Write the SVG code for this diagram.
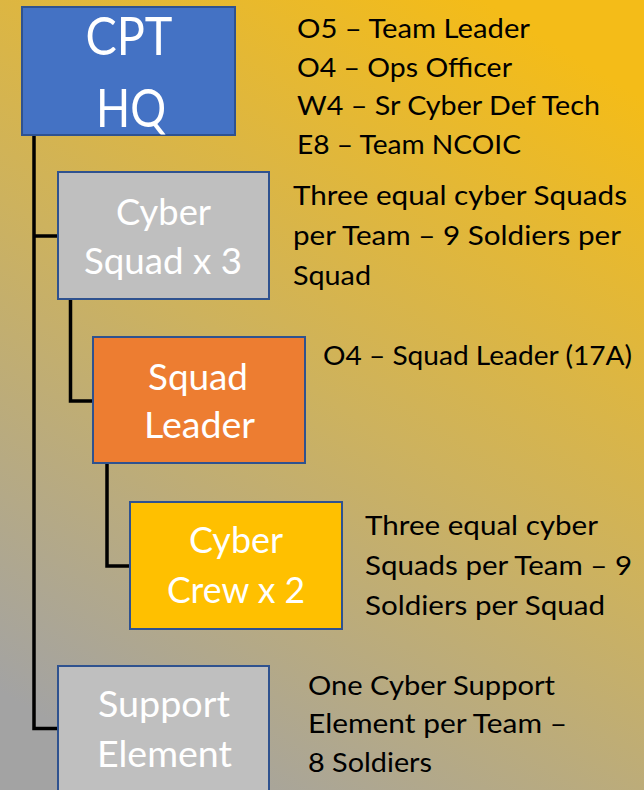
<svg xmlns="http://www.w3.org/2000/svg" width="644" height="790" viewBox="0 0 644 790">
<defs>
<linearGradient id="bg" x1="0.25" y1="1" x2="0.75" y2="0">
<stop offset="0" stop-color="#A3A3A3"/>
<stop offset="0.5" stop-color="#CDB25E"/>
<stop offset="1" stop-color="#F4BC18"/>
</linearGradient>
<style>
.box{stroke:#2F528F;stroke-width:2}
.bt{font-family:Lato,"Open Sans","Liberation Sans",sans-serif;fill:#FFFFFF;text-anchor:middle}
.dt{font-family:Lato,"Open Sans","Liberation Sans",sans-serif;fill:#000000;font-size:26.5px}
.conn{fill:none;stroke:#000000;stroke-width:3.5;stroke-linejoin:miter}
</style>
</defs>
<rect x="0" y="0" width="644" height="790" fill="url(#bg)"/>
<g id="connectors">
<polyline class="conn" points="34,135 34,728.5 58,728.5"/>
<line class="conn" x1="34" y1="236" x2="58" y2="236"/>
<polyline class="conn" points="70.5,299 70.5,401 93,401"/>
<polyline class="conn" points="107,463 107,566 130,566"/>
</g>
<g id="cpt-hq">
<rect class="box" x="22" y="7" width="213" height="128" fill="#4472C4"/>
<text class="bt" x="129" y="55" font-size="53" textLength="87" lengthAdjust="spacingAndGlyphs">CPT</text>
<text class="bt" x="131" y="127" font-size="53" textLength="70" lengthAdjust="spacingAndGlyphs">HQ</text>
<text class="dt" x="297" y="38" textLength="233" lengthAdjust="spacingAndGlyphs">O5 – Team Leader</text>
<text class="dt" x="297" y="77" textLength="215" lengthAdjust="spacingAndGlyphs">O4 – Ops Officer</text>
<text class="dt" x="297" y="115" textLength="303" lengthAdjust="spacingAndGlyphs">W4 – Sr Cyber Def Tech</text>
<text class="dt" x="297" y="154" textLength="224" lengthAdjust="spacingAndGlyphs">E8 – Team NCOIC</text>
</g>
<g id="cyber-squad">
<rect class="box" x="58" y="172" width="211" height="127" fill="#BFBFBF"/>
<text class="bt" x="163.5" y="225" font-size="36" textLength="95" lengthAdjust="spacingAndGlyphs">Cyber</text>
<text class="bt" x="163" y="274" font-size="36" textLength="158" lengthAdjust="spacingAndGlyphs">Squad x 3</text>
<text class="dt" x="293" y="205" textLength="334" lengthAdjust="spacingAndGlyphs">Three equal cyber Squads</text>
<text class="dt" x="293" y="245" textLength="328" lengthAdjust="spacingAndGlyphs">per Team – 9 Soldiers per</text>
<text class="dt" x="293" y="285" textLength="78" lengthAdjust="spacingAndGlyphs">Squad</text>
</g>
<g id="squad-leader">
<rect class="box" x="93" y="337" width="212" height="126" fill="#ED7D31"/>
<text class="bt" x="198" y="390" font-size="36" textLength="100" lengthAdjust="spacingAndGlyphs">Squad</text>
<text class="bt" x="199.5" y="438" font-size="36" textLength="111" lengthAdjust="spacingAndGlyphs">Leader</text>
<text class="dt" x="323" y="365" textLength="309" lengthAdjust="spacingAndGlyphs">O4 – Squad Leader (17A)</text>
</g>
<g id="cyber-crew">
<rect class="box" x="130" y="502" width="212" height="127" fill="#FFC000"/>
<text class="bt" x="236" y="553" font-size="36" textLength="94" lengthAdjust="spacingAndGlyphs">Cyber</text>
<text class="bt" x="236" y="603" font-size="36" textLength="138" lengthAdjust="spacingAndGlyphs">Crew x 2</text>
<text class="dt" x="365" y="535" textLength="233" lengthAdjust="spacingAndGlyphs">Three equal cyber</text>
<text class="dt" x="365" y="575" textLength="267" lengthAdjust="spacingAndGlyphs">Squads per Team – 9</text>
<text class="dt" x="365" y="615" textLength="240" lengthAdjust="spacingAndGlyphs">Soldiers per Squad</text>
</g>
<g id="support-element">
<rect class="box" x="58" y="666" width="211" height="140" fill="#BFBFBF"/>
<text class="bt" x="164" y="717" font-size="36" textLength="132" lengthAdjust="spacingAndGlyphs">Support</text>
<text class="bt" x="164.5" y="767" font-size="36" textLength="135" lengthAdjust="spacingAndGlyphs">Element</text>
<text class="dt" x="308" y="695" textLength="247" lengthAdjust="spacingAndGlyphs">One Cyber Support</text>
<text class="dt" x="308" y="733" textLength="259" lengthAdjust="spacingAndGlyphs">Element per Team –</text>
<text class="dt" x="308" y="772" textLength="124" lengthAdjust="spacingAndGlyphs">8 Soldiers</text>
</g>
</svg>
